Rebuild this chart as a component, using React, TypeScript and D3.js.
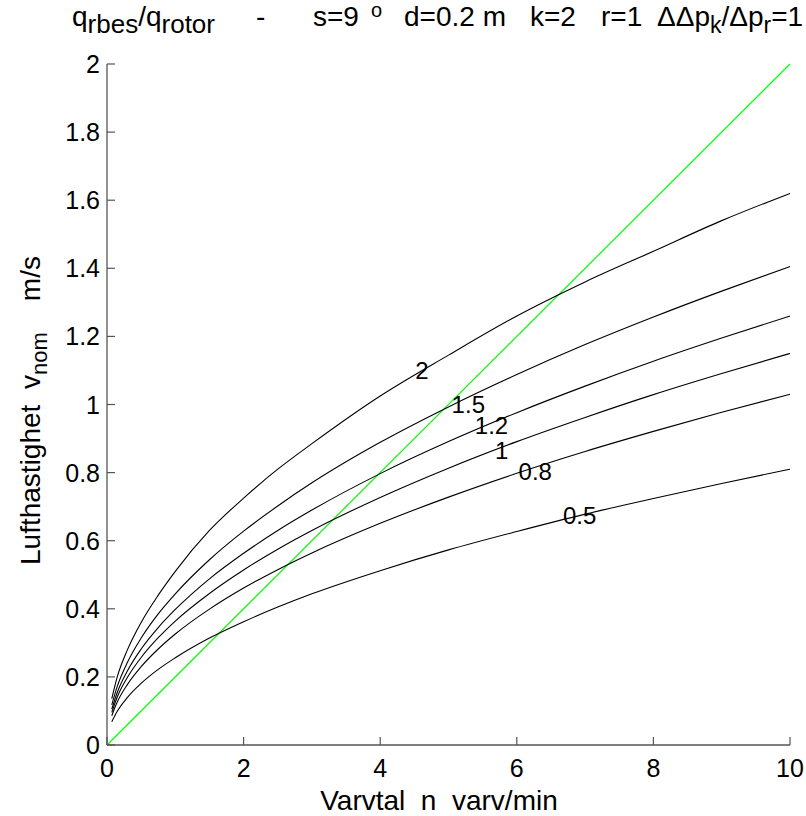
import React from "react";
import * as d3 from "d3";

const W = 806;
const H = 816;

const nValues = [0.07, 0.15, 0.3, 0.5, 0.75, 1, 1.5, 2, 2.5, 3, 4, 5, 6, 7, 8, 9, 10];
const series2 = [0.136, 0.2, 0.28, 0.36, 0.44, 0.51, 0.63, 0.725, 0.81, 0.885, 1.025, 1.145, 1.26, 1.36, 1.45, 1.54, 1.62];
const series15 = [0.118, 0.172, 0.243, 0.314, 0.385, 0.444, 0.544, 0.628, 0.702, 0.77, 0.889, 0.993, 1.088, 1.176, 1.257, 1.333, 1.405];
const series12 = [0.105, 0.154, 0.218, 0.282, 0.345, 0.398, 0.488, 0.563, 0.63, 0.69, 0.797, 0.891, 0.976, 1.054, 1.127, 1.195, 1.26];
const series1 = [0.096, 0.141, 0.199, 0.257, 0.315, 0.364, 0.445, 0.514, 0.575, 0.63, 0.727, 0.813, 0.891, 0.962, 1.029, 1.091, 1.15];
const series08 = [0.086, 0.126, 0.178, 0.23, 0.282, 0.326, 0.399, 0.461, 0.515, 0.564, 0.651, 0.728, 0.798, 0.862, 0.921, 0.977, 1.03];
const series05 = [0.068, 0.099, 0.14, 0.181, 0.222, 0.256, 0.314, 0.362, 0.405, 0.444, 0.512, 0.573, 0.627, 0.678, 0.724, 0.768, 0.81];

const curveNames = ["2", "1.5", "1.2", "1", "0.8", "0.5"];
const curveLabelX = [4.61, 5.29, 5.63, 5.78, 6.27, 6.92];
const curveLabelY = [1.1, 1.0, 0.937, 0.864, 0.803, 0.673];

const greenX = [0, 10];
const greenY = [0, 2];

const xTicks = [0, 2, 4, 6, 8, 10];
const yTicks = [0, 0.2, 0.4, 0.6, 0.8, 1, 1.2, 1.4, 1.6, 1.8, 2];

const allSeries = [series2, series15, series12, series1, series08, series05];

export default function App() {
  const left = 107, right = 790, top = 64, bottom = 745;
  const x = d3.scaleLinear().domain([0, 10]).range([left, right]);
  const y = d3.scaleLinear().domain([0, 2]).range([bottom, top]);
  const line = d3
    .line<[number, number]>()
    .x((d) => x(d[0]))
    .y((d) => y(d[1]))
    .curve(d3.curveMonotoneX);
  const straight = d3
    .line<[number, number]>()
    .x((d) => x(d[0]))
    .y((d) => y(d[1]));

  const font = "'Liberation Sans', Arial, Helvetica, sans-serif";
  const fsTick = 25;
  const fsCurve = 24;
  const fsLabel = 28;
  const fsTitle = 28;
  const fsSub = 23;
  const fsSub1 = 26;
  const axisColor = "#555";
  const tb = 26; // title baseline
  const sd = 7; // subscript drop

  return (
    <svg
      width={W}
      height={H}
      style={{ position: "absolute", left: 0, top: 0, background: "#fff" }}
      fontFamily={font}
    >
      <rect x={0} y={0} width={W} height={H} fill="#fff" />
      <path
        d={straight(greenX.map((v, i) => [v, greenY[i]] as [number, number])) || ""}
        fill="none"
        stroke="#00ff00"
        strokeWidth={1.2}
      />
      {allSeries.map((s, k) => (
        <path
          key={k}
          d={line(nValues.map((v, i) => [v, s[i]] as [number, number])) || ""}
          fill="none"
          stroke="#000"
          strokeWidth={1.1}
        />
      ))}
      {curveNames.map((nm, i) => (
        <text
          key={nm}
          x={x(curveLabelX[i])}
          y={y(curveLabelY[i])}
          fontSize={fsCurve}
          textAnchor="middle"
          dominantBaseline="central"
          fill="#000"
        >
          {nm}
        </text>
      ))}
      <line x1={left} x2={left} y1={top} y2={bottom} stroke={axisColor} strokeWidth={1.3} />
      <line x1={left} x2={right} y1={bottom} y2={bottom} stroke={axisColor} strokeWidth={1.3} />
      {xTicks.map((t) => (
        <g key={"x" + t}>
          <line x1={x(t)} x2={x(t)} y1={bottom} y2={bottom - 8} stroke={axisColor} strokeWidth={1.2} />
          <text x={x(t)} y={bottom + 32} fontSize={fsTick} textAnchor="middle" fill="#000">
            {t}
          </text>
        </g>
      ))}
      {yTicks.map((t) => (
        <g key={"y" + t}>
          <line x1={left} x2={left + 8} y1={y(t)} y2={y(t)} stroke={axisColor} strokeWidth={1.2} />
          <text
            x={left - 7}
            y={y(t)}
            fontSize={fsTick}
            textAnchor="end"
            dominantBaseline="central"
            fill="#000"
          >
            {d3.format("")(t)}
          </text>
        </g>
      ))}
      <text x={439} y={810} fontSize={fsLabel} textAnchor="middle" fill="#000" style={{ whiteSpace: "pre" }}>
        {"Varvtal  n  varv/min"}
      </text>
      <text
        transform="translate(40, 565) rotate(-90)"
        fontSize={fsLabel}
        textAnchor="start"
        fill="#000"
        style={{ whiteSpace: "pre" }}
      >
        <tspan>{"Lufthastighet  v"}</tspan>
        <tspan dy={7} fontSize={22}>nom</tspan>
        <tspan dy={-7}>{"    m/s"}</tspan>
      </text>
      <g fontSize={fsTitle} fill="#000" style={{ whiteSpace: "pre" }}>
        <text x={72} y={tb}>
          <tspan>q</tspan>
          <tspan dy={sd} fontSize={fsSub1}>rbes</tspan>
          <tspan dy={-sd}>/q</tspan>
          <tspan dy={sd} fontSize={fsSub1}>rotor</tspan>
        </text>
        <text x={256} y={tb}>-</text>
        <text x={313} y={tb}>s=9</text>
        <text x={371} y={tb - 9} fontSize={20}>o</text>
        <text x={404} y={tb}>d=0.2 m</text>
        <text x={530} y={tb}>k=2</text>
        <text x={601} y={tb}>r=1</text>
        <text x={657} y={tb}>
          <tspan>ΔΔp</tspan>
          <tspan dy={sd} fontSize={fsSub}>k</tspan>
          <tspan dy={-sd}>/Δp</tspan>
          <tspan dy={sd} fontSize={fsSub}>r</tspan>
          <tspan dy={-sd}>=1</tspan>
        </text>
      </g>
    </svg>
  );
}
